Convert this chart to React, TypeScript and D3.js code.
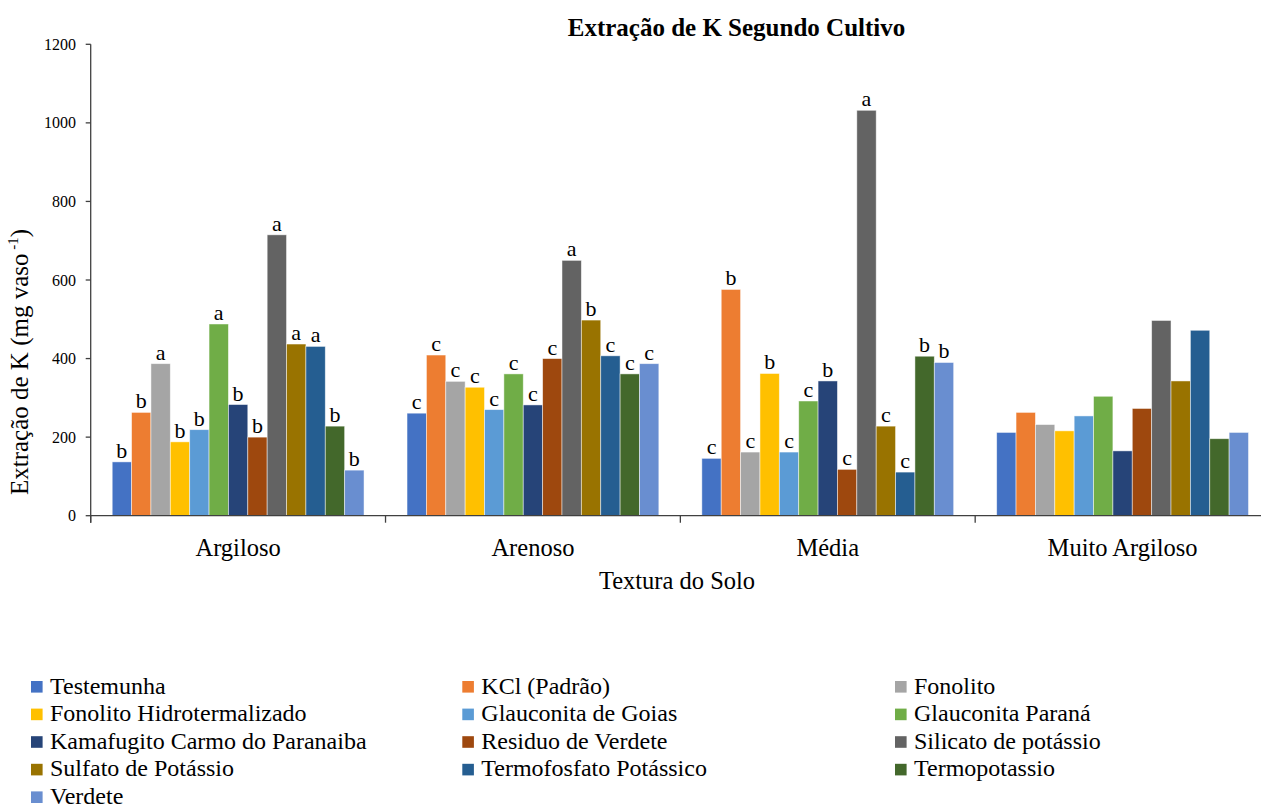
import React from "react";
import * as d3 from "d3";

// Soil textures (x categories)
const categories = ["Argiloso", "Arenoso", "Média", "Muito Argiloso"];

// Treatments (series)
const seriesNames = [
  "Testemunha",
  "KCl (Padrão)",
  "Fonolito",
  "Fonolito Hidrotermalizado",
  "Glauconita de Goias",
  "Glauconita Paraná",
  "Kamafugito Carmo do Paranaiba",
  "Residuo de Verdete",
  "Silicato de potássio",
  "Sulfato de Potássio",
  "Termofosfato Potássico",
  "Termopotassio",
  "Verdete",
];

const seriesColors = [
  "#4472C4",
  "#ED7D31",
  "#A5A5A5",
  "#FFC000",
  "#5B9BD5",
  "#70AD47",
  "#264478",
  "#9E480E",
  "#636363",
  "#997300",
  "#255E91",
  "#43682B",
  "#698ED0",
];

// K extraction (mg vaso-1), one array per soil texture, in series order
const argilosoValues = [137, 263, 387, 188, 219, 488, 283, 200, 715, 437, 431, 228, 116];
const arenosoValues = [261, 409, 342, 327, 270, 361, 282, 400, 650, 498, 407, 361, 387];
const mediaValues = [146, 576, 162, 362, 162, 292, 343, 118, 1032, 228, 111, 406, 390];
const muitoArgilosoValues = [212, 263, 232, 216, 254, 304, 165, 273, 497, 343, 472, 196, 212];

// Significance letters (empty where none is shown)
const argilosoLetters = ["b", "b", "a", "b", "b", "a", "b", "b", "a", "a", "a", "b", "b"];
const arenosoLetters = ["c", "c", "c", "c", "c", "c", "c", "c", "a", "b", "c", "c", "c"];
const mediaLetters = ["c", "b", "c", "b", "c", "c", "b", "c", "a", "c", "c", "b", "b"];
const muitoArgilosoLetters = ["", "", "", "", "", "", "", "", "", "", "", "", ""];

const yTicks = [0, 200, 400, 600, 800, 1000, 1200];

const groupValues = [argilosoValues, arenosoValues, mediaValues, muitoArgilosoValues];
const groupLetters = [argilosoLetters, arenosoLetters, mediaLetters, muitoArgilosoLetters];

const FONT = '"Liberation Serif", "Times New Roman", Times, "DejaVu Serif", serif';
const AXIS = "#404040";

const serif = (size: number, bold = false): React.CSSProperties => ({
  fontFamily: FONT,
  fontSize: size,
  fontWeight: bold ? 700 : 400,
});

export default function App() {
  const width = 1261;
  const height = 810;
  const plotLeft = 90.7;
  const plotRight = 1270;
  const plotTop = 44.3;
  const plotBottom = 515.7;

  const y = d3.scaleLinear().domain([0, 1200]).range([plotBottom, plotTop]);
  const x0 = d3.scaleBand<string>().domain(categories).range([plotLeft, plotRight]).padding(0);
  const x1 = d3
    .scaleBand<string>()
    .domain(seriesNames)
    .range([0, x0.bandwidth()])
    .paddingInner(0)
    .paddingOuter(1.11);

  const boundaries = categories.map((c) => x0(c) as number).concat([plotRight]);

  const legendCols = [31, 462.3, 895];
  const legendRow0 = 681.0;
  const legendRowStep = 27.6;

  return (
    <div style={{ position: "absolute", left: 0, top: 0 }}>
      <svg width={width} height={height} style={{ display: "block", background: "#fff" }}>
        <text x={736.5} y={36} textAnchor="middle" style={serif(25, true)} fill="#000">
          Extração de K Segundo Cultivo
        </text>

        {/* bars */}
        {categories.map((cat, gi) => (
          <g key={cat} transform={`translate(${x0(cat)},0)`}>
            {seriesNames.map((s, si) => {
              const v = groupValues[gi][si];
              return (
                <rect
                  key={s}
                  x={x1(s) as number}
                  y={y(v)}
                  width={x1.bandwidth()}
                  height={y(0) - y(v)}
                  fill={seriesColors[si]}
                  stroke="#ffffff"
                  strokeOpacity={0.6}
                  strokeWidth={0.8}
                />
              );
            })}
            {seriesNames.map((s, si) => {
              const letter = groupLetters[gi][si];
              if (!letter) return null;
              const v = groupValues[gi][si];
              return (
                <text
                  key={s + "-l"}
                  x={(x1(s) as number) + x1.bandwidth() / 2}
                  y={y(v) - 4}
                  textAnchor="middle"
                  style={serif(22)}
                  fill="#000"
                >
                  {letter}
                </text>
              );
            })}
          </g>
        ))}

        {/* y axis */}
        <line x1={plotLeft} x2={plotLeft} y1={plotTop} y2={plotBottom + 7} stroke={AXIS} strokeWidth={1.3} />
        {yTicks.map((t) => (
          <g key={t}>
            <line x1={plotLeft - 5} x2={plotLeft} y1={y(t)} y2={y(t)} stroke={AXIS} strokeWidth={1.3} />
            <text x={76} y={y(t)} dy="0.35em" textAnchor="end" style={serif(16)} fill="#000">
              {t}
            </text>
          </g>
        ))}

        {/* x axis */}
        <line x1={plotLeft} x2={plotRight} y1={plotBottom} y2={plotBottom} stroke={AXIS} strokeWidth={1.3} />
        {boundaries.map((b, i) => (
          <line key={i} x1={b} x2={b} y1={plotBottom} y2={plotBottom + 7} stroke={AXIS} strokeWidth={1.3} />
        ))}
        {categories.map((cat) => (
          <text
            key={cat}
            x={(x0(cat) as number) + x0.bandwidth() / 2}
            y={556}
            textAnchor="middle"
            style={serif(24.5)}
            fill="#000"
          >
            {cat}
          </text>
        ))}

        <text x={677} y={589} textAnchor="middle" style={serif(24.5)} fill="#000">
          Textura do Solo
        </text>

        <text transform="translate(28,362) rotate(-90)" textAnchor="middle" style={serif(25)} fill="#000">
          Extração de K (mg vaso
          <tspan style={{ fontSize: 15 }} dy={-10}> -1</tspan>
          <tspan dy={10}>)</tspan>
        </text>

        {/* legend */}
        {seriesNames.map((s, i) => {
          const col = i % 3;
          const row = Math.floor(i / 3);
          const lx = legendCols[col];
          const ly = legendRow0 + row * legendRowStep;
          return (
            <g key={s}>
              <rect x={lx} y={ly} width={11.6} height={11.6} fill={seriesColors[i]} />
              <text x={lx + 19} y={ly + 12.6} style={serif(24)} fill="#000">
                {s}
              </text>
            </g>
          );
        })}
      </svg>
    </div>
  );
}
